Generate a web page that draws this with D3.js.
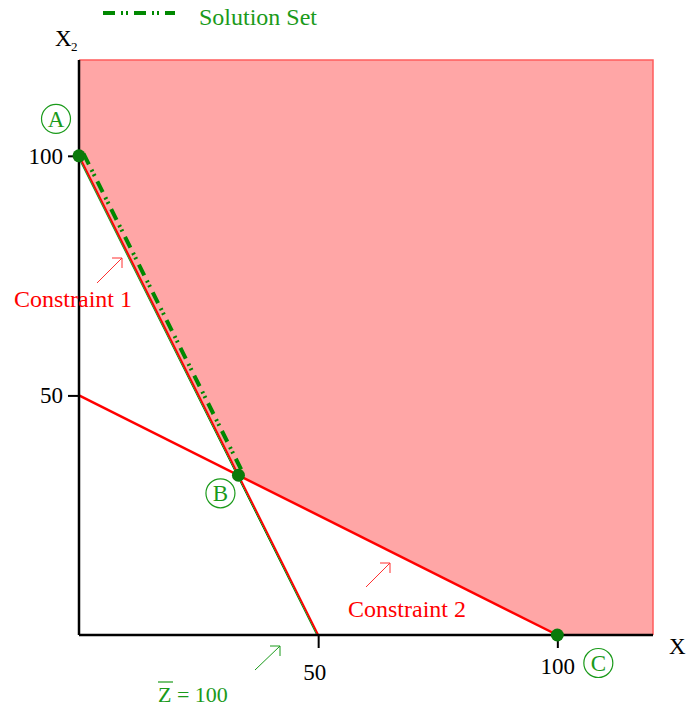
<!DOCTYPE html>
<html>
<head>
<meta charset="utf-8">
<script src="https://cdn.jsdelivr.net/npm/d3@7"></script>
<style>
  body { margin: 0; background: #fff; }
</style>
</head>
<body>
<svg id="chart" width="690" height="708"></svg>
<script>
// data
let constraint1 = [[0, 100], [50, 0]];   // 2x1 + x2 = 100
let constraint2 = [[0, 50], [100, 0]];   // x1 + 2x2 = 100
let zLine = [[0, 100], [50, 0]];         // Z = 100
let cornerPoints = [
    {name: "A", x: 0, y: 100},
    {name: "B", x: 100 / 3, y: 100 / 3},
    {name: "C", x: 100, y: 0}
];
let solutionSet = [[0, 100], [100 / 3, 100 / 3]];
let feasible = [[0, 120], [0, 100], [100 / 3, 100 / 3], [100, 0], [120, 0], [120, 120]];
let xTicks = [50, 100];
let yTicks = [50, 100];

const SERIF = "'Liberation Serif', 'DejaVu Serif', 'Times New Roman', serif";

let svg = d3.select("#chart");

let x = d3.scaleLinear().domain([0, 120]).range([79, 653]);
let y = d3.scaleLinear().domain([0, 120]).range([635, 60]);

let line = d3.line().x(d => x(d[0])).y(d => y(d[1]));

function label(px, py, size, color, txt) {
    return svg.append("text")
        .attr("x", px).attr("y", py)
        .style("font-family", SERIF)
        .style("font-size", size + "px")
        .attr("fill", color)
        .text(txt);
}

// feasible region
svg.append("path")
    .attr("d", line(feasible) + "Z")
    .attr("fill", "#ffa6a6")
    .attr("stroke", "none");
// top and right border
svg.append("path")
    .attr("d", line([[0, 120], [120, 120], [120, 0]]))
    .attr("fill", "none")
    .attr("stroke", "#ff5c5c")
    .attr("stroke-width", 1.5);

// constraint lines
svg.append("path")
    .attr("d", line(constraint2))
    .attr("stroke", "#ff0000")
    .attr("stroke-width", 2.5)
    .attr("fill", "none");

svg.append("path")
    .attr("d", line(constraint1))
    .attr("stroke", "#ff0000")
    .attr("stroke-width", 2)
    .attr("fill", "none");

// Z = 100 line (just under constraint 1)
svg.append("path")
    .attr("d", line(zLine))
    .attr("transform", "translate(-1.2,0.6)")
    .attr("stroke", "#118811")
    .attr("stroke-width", 1)
    .attr("fill", "none");

// solution set, offset a little to the right
let dashPattern = "12,6,2,3,2,6";
svg.append("path")
    .attr("d", line(solutionSet))
    .attr("transform", "translate(4.5,-2.2)")
    .attr("stroke", "#008800")
    .attr("stroke-width", 4)
    .attr("stroke-dasharray", dashPattern)
    .attr("fill", "none");

// axes
let xAxis = d3.axisBottom(x).tickValues(xTicks).tickSize(13).tickFormat(d3.format("d"));
let gx = svg.append("g").attr("transform", "translate(0," + y(0) + ")").call(xAxis);
gx.select(".domain").attr("d", "M" + x(0) + ",0H" + x(120)).attr("stroke", "#000").attr("stroke-width", 2.5);
gx.selectAll(".tick line").attr("stroke", "#000").attr("stroke-width", 2);
gx.selectAll(".tick text")
    .style("font-family", SERIF).style("font-size", "23px").attr("fill", "#000")
    .attr("y", d => d === 50 ? 29 : 23)
    .attr("dx", d => d === 50 ? -4 : 0);

let yAxis = d3.axisLeft(y).tickValues(yTicks).tickSize(11).tickFormat(d3.format("d"));
let gy = svg.append("g").attr("transform", "translate(" + x(0) + ",0)").call(yAxis);
gy.select(".domain").attr("d", "M0," + y(0) + "V" + y(120)).attr("stroke", "#000").attr("stroke-width", 2.5);
gy.selectAll(".tick line").attr("stroke", "#000").attr("stroke-width", 2);
gy.selectAll(".tick text")
    .style("font-family", SERIF).style("font-size", "23px").attr("fill", "#000")
    .attr("x", -16);

// axis titles
label(55, 46, 23, "#000", "X");
label(71, 51, 13, "#000", "2");
label(669, 654, 23, "#000", "X");

// corner points
svg.selectAll(".corner")
    .data(cornerPoints)
    .enter()
    .append("circle")
    .attr("class", "corner")
    .attr("cx", d => x(d.x))
    .attr("cy", d => y(d.y))
    .attr("r", 6.5)
    .attr("fill", "#0a7a0a");

// circled labels
let labelPos = {A: [-23, -37], B: [-18, 18], C: [41, 28]};
let lbl = svg.selectAll(".clabel")
    .data(cornerPoints)
    .enter()
    .append("g")
    .attr("class", "clabel")
    .attr("transform", d => "translate(" + (x(d.x) + labelPos[d.name][0]) + "," + (y(d.y) + labelPos[d.name][1]) + ")");
lbl.append("circle")
    .attr("r", 14.5)
    .attr("fill", "none")
    .attr("stroke", "#1a9a1a")
    .attr("stroke-width", 1.2);
lbl.append("text")
    .attr("text-anchor", "middle")
    .attr("y", 8)
    .style("font-family", SERIF)
    .style("font-size", "23px")
    .attr("fill", "#1a9a1a")
    .text(d => d.name);

// annotations
function arrow(x1, y1, x2, y2, color) {
    svg.append("line")
        .attr("x1", x1).attr("y1", y1).attr("x2", x2).attr("y2", y2)
        .attr("stroke", color).attr("stroke-width", 1);
    svg.append("path")
        .attr("d", "M" + (x2 - 10) + "," + y2 + "L" + x2 + "," + y2 + "L" + x2 + "," + (y2 + 10))
        .attr("stroke", color).attr("stroke-width", 1).attr("fill", "none");
}

label(14, 307, 24, "#ff0000", "Constraint 1");
arrow(97, 283, 122, 258, "#ff3030");

label(348, 617, 24, "#ff0000", "Constraint 2");
arrow(366, 587, 390, 563, "#ff3030");

label(158, 702, 22, "#1a9a1a", "Z = 100");
svg.append("line").attr("x1", 158).attr("x2", 173).attr("y1", 682).attr("y2", 682)
    .attr("stroke", "#1a9a1a").attr("stroke-width", 1.2);
arrow(255, 670, 280, 646, "#1a9a1a");

// legend
svg.append("line")
    .attr("x1", 103).attr("x2", 175).attr("y1", 13).attr("y2", 13)
    .attr("stroke", "#008800")
    .attr("stroke-width", 4)
    .attr("stroke-dasharray", dashPattern);
label(199, 25, 24, "#1a9a1a", "Solution Set");
</script>
</body>
</html>
